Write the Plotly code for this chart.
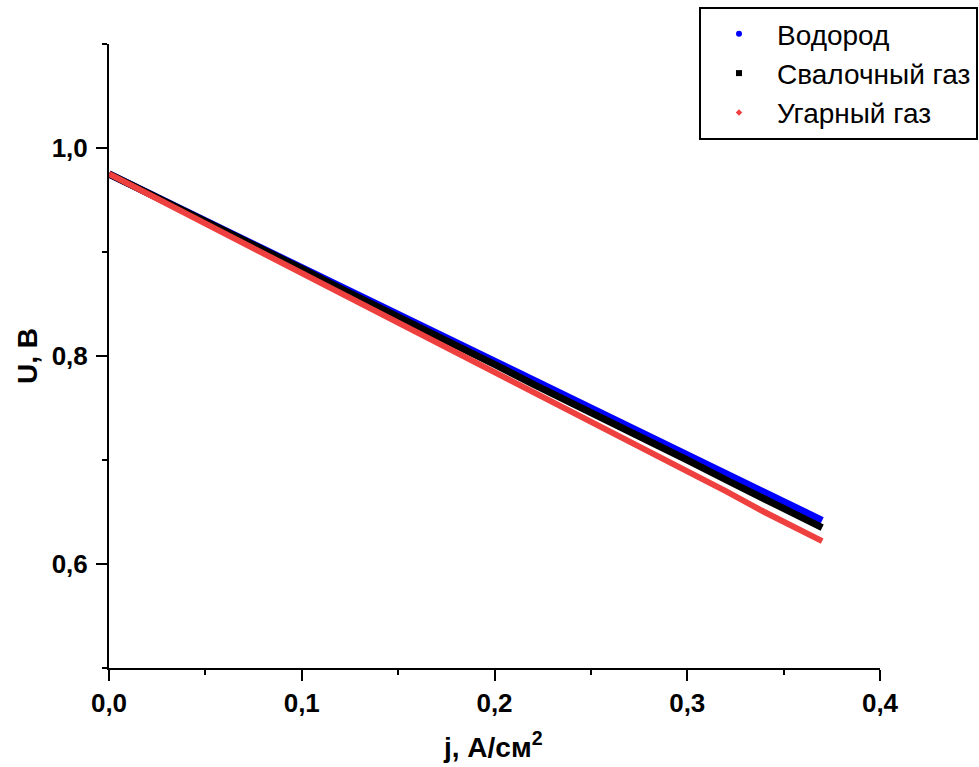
import plotly.graph_objects as go

# Current density, A/cm^2
j = [0.00, 0.02, 0.04, 0.06, 0.08, 0.10, 0.12, 0.14, 0.16, 0.18,
     0.20, 0.22, 0.24, 0.26, 0.28, 0.30, 0.32, 0.34, 0.36, 0.37]

# Voltage, V
u_hydrogen = [0.975, 0.957, 0.939, 0.921, 0.903, 0.885, 0.867, 0.849, 0.831, 0.813,
              0.795, 0.777, 0.759, 0.741, 0.723, 0.705, 0.687, 0.669, 0.651, 0.642]
u_landfill = [0.975, 0.957, 0.938, 0.920, 0.902, 0.884, 0.865, 0.847, 0.828, 0.810,
              0.792, 0.773, 0.755, 0.736, 0.718, 0.700, 0.681, 0.663, 0.645, 0.635]
u_co = [0.975, 0.956, 0.937, 0.918, 0.899, 0.880, 0.860, 0.841, 0.822, 0.803,
        0.784, 0.765, 0.746, 0.727, 0.708, 0.689, 0.670, 0.650, 0.631, 0.622]

names = ["Водород", "Свалочный газ", "Угарный газ"]
colors = ["#0000ff", "#000000", "#ef4040"]
series = [u_hydrogen, u_landfill, u_co]
symbols = ["circle", "square", "diamond"]
msizes = [6, 6, 5]
widths = [7, 7, 6]

fig = go.Figure()
for name, col, ys, w in zip(names, colors, series, widths):
    fig.add_trace(go.Scatter(x=j, y=ys, mode="lines", line=dict(color=col, width=w),
                             showlegend=False, name=name))
for name, col, sym, ms in zip(names, colors, symbols, msizes):
    fig.add_trace(go.Scatter(x=[None], y=[None], mode="markers", name=name,
                             marker=dict(color=col, size=ms, symbol=sym)))

W, H = 979, 767
ml, mr, mt, mb = 109, 99, 44, 99
pw, ph = W - ml - mr, H - mt - mb

FAM = "Liberation Sans, Arial"
tickfont = dict(size=26, family=FAM, weight="bold")

fig.update_layout(
    width=W, height=H,
    margin=dict(l=ml, r=mr, t=mt, b=mb, autoexpand=False),
    plot_bgcolor="white", paper_bgcolor="white",
    separators=", ",
    font=dict(family=FAM, color="black"),
    legend=dict(x=(699 - ml) / pw, y=(H - mb - 7) / ph, xanchor="left", yanchor="top",
                bordercolor="black", borderwidth=2, bgcolor="white",
                font=dict(size=28, family=FAM),
                itemwidth=66, tracegroupgap=0),
    xaxis=dict(range=[0, 0.4], showgrid=False, zeroline=False,
               showline=True, linecolor="black", linewidth=2,
               ticks="outside", ticklen=11, tickwidth=2, tickcolor="black",
               dtick=0.1, tick0=0, tickformat=".1f", tickfont=tickfont,
               minor=dict(ticks="outside", ticklen=5, tickwidth=2, tickcolor="black", dtick=0.05)),
    yaxis=dict(range=[0.5, 1.1], showgrid=False, zeroline=False,
               showline=True, linecolor="black", linewidth=2,
               ticks="outside", ticklen=11, tickwidth=2, tickcolor="black",
               dtick=0.2, tick0=0, tickformat=".1f", tickfont=tickfont,
               ticklabelstandoff=3,
               minor=dict(ticks="outside", ticklen=5, tickwidth=2, tickcolor="black", dtick=0.1)),
    annotations=[
        dict(text="<b>j, А/см<sup>2</sup></b>", xref="paper", yref="paper",
             x=(493 - ml) / pw, y=(H - mb - 745) / ph, xanchor="center", yanchor="middle",
             showarrow=False, font=dict(size=28, family=FAM)),
        dict(text="<b>U, В</b>", xref="paper", yref="paper", textangle=-90,
             x=(27 - ml) / pw, y=(H - mb - 356) / ph, xanchor="center", yanchor="middle",
             showarrow=False, font=dict(size=28, family=FAM)),
    ],
)

fig.write_html("out.html")
